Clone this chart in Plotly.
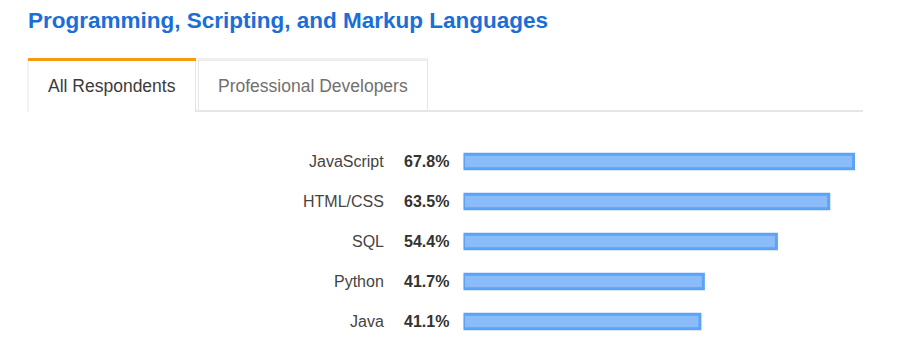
import plotly.graph_objects as go

# ---- data ----
languages = ["JavaScript", "HTML/CSS", "SQL", "Python", "Java"]
shares = [67.8, 63.5, 54.4, 41.7, 41.1]
pct_labels = ["67.8%", "63.5%", "54.4%", "41.7%", "41.1%"]
title_text = "Programming, Scripting, and Markup Languages"
tab_labels = ["All Respondents", "Professional Developers"]

W, H = 910, 337
FONT = "Liberation Sans, Arial, Helvetica, sans-serif"


def px(x):
    return x / W


def py(y):
    return 1 - y / H


fig = go.Figure()
fig.add_trace(go.Bar(
    y=languages,
    x=shares,
    orientation="h",
    width=0.36,
    marker=dict(color="#8bbcf9", line=dict(color="#5aa3f6", width=3)),
    hoverinfo="skip",
))

shapes = []
# tab 1 (active)
shapes.append(dict(type="line", xref="paper", yref="paper", x0=px(28), x1=px(28), y0=py(60), y1=py(112),
                   line=dict(color="#e6e6e6", width=1)))
shapes.append(dict(type="line", xref="paper", yref="paper", x0=px(195.5), x1=px(195.5), y0=py(60), y1=py(112),
                   line=dict(color="#e6e6e6", width=1)))
shapes.append(dict(type="rect", xref="paper", yref="paper", x0=px(28), x1=px(196), y0=py(58), y1=py(61),
                   line=dict(width=0), fillcolor="#f8990f"))
# tab 2
shapes.append(dict(type="rect", xref="paper", yref="paper", x0=px(198), x1=px(428), y0=py(58), y1=py(61),
                   line=dict(width=0), fillcolor="#eeeeee"))
shapes.append(dict(type="line", xref="paper", yref="paper", x0=px(198.5), x1=px(198.5), y0=py(60), y1=py(111),
                   line=dict(color="#e6e6e6", width=1)))
shapes.append(dict(type="line", xref="paper", yref="paper", x0=px(427.5), x1=px(427.5), y0=py(60), y1=py(111),
                   line=dict(color="#e6e6e6", width=1)))
# baseline under tabs
shapes.append(dict(type="rect", xref="paper", yref="paper", x0=px(196), x1=px(863), y0=py(110), y1=py(112),
                   line=dict(width=0), fillcolor="#e6e6e6"))

annotations = []
annotations.append(dict(text="<b>" + title_text + "</b>", xref="paper", yref="paper",
                        x=px(26), y=py(20), xanchor="left", yanchor="middle", showarrow=False,
                        font=dict(family=FONT, size=22.5, color="#1a6ed8")))
annotations.append(dict(text=tab_labels[0], xref="paper", yref="paper",
                        x=px(46), y=py(86), xanchor="left", yanchor="middle", showarrow=False,
                        font=dict(family=FONT, size=17.5, color="#3b3b3b")))
annotations.append(dict(text=tab_labels[1], xref="paper", yref="paper",
                        x=px(216), y=py(86), xanchor="left", yanchor="middle", showarrow=False,
                        font=dict(family=FONT, size=17.5, color="#707070")))
for lang, lab in zip(languages, pct_labels):
    annotations.append(dict(text=lang, xref="paper", yref="y", x=px(386), y=lang,
                            xanchor="right", yanchor="middle", showarrow=False,
                            font=dict(family=FONT, size=16, color="#444444")))
    annotations.append(dict(text="<b>" + lab + "</b>", xref="paper", yref="y", x=px(402), y=lang,
                            xanchor="left", yanchor="middle", showarrow=False,
                            font=dict(family=FONT, size=16, color="#333333")))

fig.update_layout(
    width=W, height=H,
    margin=dict(l=0, r=0, t=0, b=0),
    paper_bgcolor="white", plot_bgcolor="white",
    showlegend=False,
    shapes=shapes,
    annotations=annotations,
    xaxis=dict(domain=[463.5 / W, (463.5 + 75 * 5.752) / W], range=[0, 75],
               visible=False, showgrid=False, zeroline=False, fixedrange=True),
    yaxis=dict(domain=[1 - 333.5 / H, 1 - 141.5 / H], range=[4.3, -0.5],
               type="category", categoryorder="array", categoryarray=languages,
               visible=False, showgrid=False, zeroline=False, fixedrange=True),
)

fig.write_html("out.html", config={"displayModeBar": False})
